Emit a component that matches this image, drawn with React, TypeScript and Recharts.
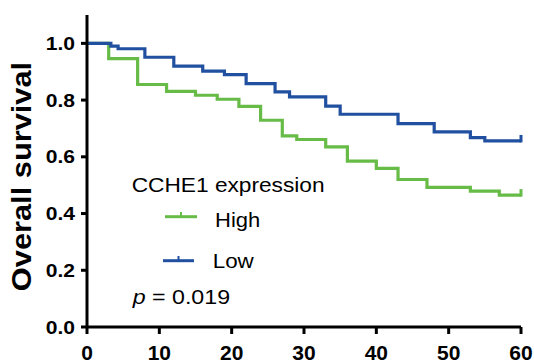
import React from "react";
import { LineChart, Line, XAxis, YAxis } from "recharts";

const highT = [0, 3, 7, 11, 15, 18, 21, 24, 27, 29, 33, 36, 40, 43, 47, 53, 57, 60];
const highS = [1.0, 0.946, 0.855, 0.831, 0.817, 0.803, 0.778, 0.729, 0.674, 0.661, 0.635, 0.585, 0.559, 0.52, 0.492, 0.479, 0.465, 0.465];
const lowT = [0, 3.3, 4.3, 8, 12, 16, 19, 22, 26, 28, 33, 35, 43, 48, 53, 55, 60];
const lowS = [1.0, 0.99, 0.981, 0.951, 0.92, 0.902, 0.89, 0.858, 0.829, 0.811, 0.779, 0.75, 0.717, 0.688, 0.668, 0.656, 0.656];
const xTicks = [0, 10, 20, 30, 40, 50, 60];
const yTicks = [0, 0.2, 0.4, 0.6, 0.8, 1.0];
const seriesNames = ["High", "Low"];
const legendTitle = "CCHE1 expression";
const pValue = "0.019";
const yLabel = "Overall survival";

const GREEN = "#67BC47";
const BLUE = "#2150A0";
const FONT = "'Liberation Sans', Arial, Helvetica, sans-serif";

const highData = highT.map((t, i) => ({ t, s: highS[i] }));
const lowData = lowT.map((t, i) => ({ t, s: lowS[i] }));

const censorDot = (len: number, color: string) => (props: any) => {
  const { cx, cy, index } = props;
  if (index !== len - 1) return <g key={`d${index}`} />;
  return <line key={`d${index}`} x1={cx} y1={cy + 1.5} x2={cx} y2={cy - 6} stroke={color} strokeWidth={3} />;
};

const YTick = (props: any) => {
  const { x, y, payload } = props;
  return (
    <text
      transform={`translate(${x},${y + 6.5}) scale(1.14,1)`}
      textAnchor="end"
      fontFamily={FONT}
      fontWeight="bold"
      fontSize={18.5}
      fill="#000"
    >
      {payload.value.toFixed(1)}
    </text>
  );
};

const XTick = (props: any) => {
  const { x, payload } = props;
  return (
    <text x={x} y={360} textAnchor="middle" fontFamily={FONT} fontWeight="bold" fontSize={21} fill="#000">
      {payload.value}
    </text>
  );
};

export default function App() {
  return (
    <div style={{ position: "absolute", left: 0, top: 0, width: 534, height: 363, background: "#fff" }}>
      <LineChart width={534} height={363} margin={{ top: 15, right: 13, bottom: 0, left: 0 }}>
        <XAxis
          type="number"
          dataKey="t"
          domain={[0, 60]}
          ticks={xTicks}
          height={36}
          axisLine={{ stroke: "#000", strokeWidth: 3 }}
          tickLine={{ stroke: "#000", strokeWidth: 3 }}
          tickSize={7}
          tick={<XTick />}
          allowDuplicatedCategory={false}
        />
        <YAxis
          type="number"
          dataKey="s"
          domain={[0, 1.1]}
          ticks={yTicks}
          width={87}
          axisLine={{ stroke: "#000", strokeWidth: 3 }}
          tickLine={{ stroke: "#000", strokeWidth: 3 }}
          tickSize={6}
          tickMargin={6}
          tick={<YTick />}
        />
        <Line
          data={highData}
          dataKey="s"
          type="stepAfter"
          stroke={GREEN}
          strokeWidth={3.2}
          dot={censorDot(highData.length, GREEN)}
          activeDot={false}
          isAnimationActive={false}
          name={seriesNames[0]}
        />
        <Line
          data={lowData}
          dataKey="s"
          type="stepAfter"
          stroke={BLUE}
          strokeWidth={3.2}
          dot={censorDot(lowData.length, BLUE)}
          activeDot={false}
          isAnimationActive={false}
          name={seriesNames[1]}
        />
      </LineChart>
      <svg width={534} height={363} style={{ position: "absolute", left: 0, top: 0, pointerEvents: "none" }}>
        <text
          transform="translate(31,176.5) rotate(-90) scale(1.12,1)"
          textAnchor="middle"
          fontFamily={FONT}
          fontWeight="bold"
          fontSize={27.5}
          fill="#000"
        >
          {yLabel}
        </text>
        <text transform="translate(131.7,191.7) scale(1.135,1)" fontFamily={FONT} fontSize={20} fill="#000">
          {legendTitle}
        </text>
        <line x1={165} y1={216.7} x2={197} y2={216.7} stroke={GREEN} strokeWidth={3} />
        <line x1={181} y1={216.7} x2={181} y2={212} stroke={GREEN} strokeWidth={2} />
        <text transform="translate(215,227) scale(1.1,1)" fontFamily={FONT} fontSize={20} fill="#000">
          {seriesNames[0]}
        </text>
        <line x1={163} y1={260.7} x2={194} y2={260.7} stroke={BLUE} strokeWidth={3} />
        <line x1={178.5} y1={260.7} x2={178.5} y2={256} stroke={BLUE} strokeWidth={2} />
        <text transform="translate(212.7,268) scale(1.12,1)" fontFamily={FONT} fontSize={20} fill="#000">
          {seriesNames[1]}
        </text>
        <text transform="translate(132.7,304) scale(1.16,1)" fontFamily={FONT} fontSize={20} fill="#000">
          <tspan fontStyle="italic">p</tspan>
          <tspan>{` = ${pValue}`}</tspan>
        </text>
      </svg>
    </div>
  );
}
